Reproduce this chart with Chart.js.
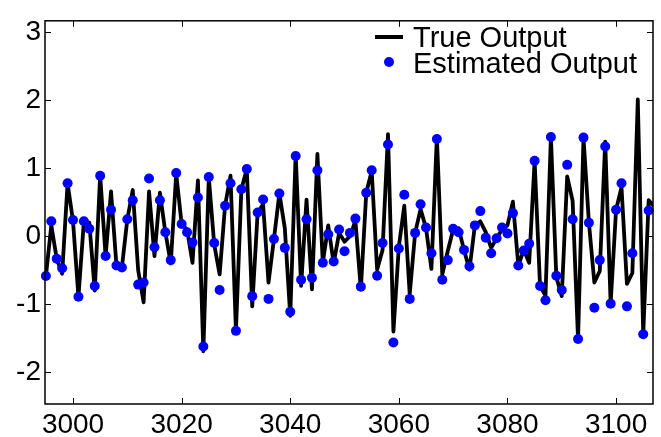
<!DOCTYPE html>
<html>
<head>
<meta charset="utf-8">
<script src="https://cdn.jsdelivr.net/npm/chart.js@4"></script>
<style>
  html, body { margin: 0; padding: 0; background: #fff; }
  #wrap { width: 661px; height: 437px; position: relative; }
</style>
</head>
<body>
<div id="wrap"><canvas id="c" width="661" height="437"></canvas></div>
<script>
// ---- data ----
const samples = [
  2995,2996,2997,2998,2999,3000,3001,3002,3003,3004,
  3005,3006,3007,3008,3009,3010,3011,3012,3013,3014,
  3015,3016,3017,3018,3019,3020,3021,3022,3023,3024,
  3025,3026,3027,3028,3029,3030,3031,3032,3033,3034,
  3035,3036,3037,3038,3039,3040,3041,3042,3043,3044,
  3045,3046,3047,3048,3049,3050,3051,3052,3053,3054,
  3055,3056,3057,3058,3059,3060,3061,3062,3063,3064,
  3065,3066,3067,3068,3069,3070,3071,3072,3073,3074,
  3075,3076,3077,3078,3079,3080,3081,3082,3083,3084,
  3085,3086,3087,3088,3089,3090,3091,3092,3093,3094,
  3095,3096,3097,3098,3099,3100,3101,3102,3103,3104,
  3105,3106,3107
];
const trueOutput = [
  -0.59, 0.16, -0.33, -0.55, 0.78, 0.22, -0.89, 0.22, 0.2, -0.8,
  0.9, -0.29, 0.66, -0.43, -0.46, 0.25, 0.68, -0.5, -0.97, 0.66,
  -0.29, 0.64, 0.06, -0.4, 0.92, 0.18, 0.1, -0.39, 0.82, -1.69,
  0.87, -0.12, -0.56, 0.45, 0.89, -1.39, 0.69, 0.99, -1.03, 0.35,
  0.47, -0.68, -0.04, 0.63, 0.12, -1.17, 1.21, -0.73, 0.54, -0.78,
  1.21, -0.39, 0.16, -0.4, 0.05, -0.08, 0.0, 0.23, -0.78, 0.64,
  0.96, -0.49, -0.2, 1.5, -1.4, -0.15, 0.45, -0.85, 0.05, 0.4,
  0.12, -0.48, 1.46, -0.56, -0.22, 0.1, 0.12, -0.2, -0.49, 0.16,
  0.22, 0.06, -0.17, -0.03, 0.1, 0.16, 0.51, -0.43, -0.2, -0.39,
  1.11, -0.73, -0.87, 1.46, -0.6, -0.88, 0.88, 0.52, -1.52, 1.45,
  0.2, -0.68, -0.51, 1.39, -0.99, 0.39, 0.72, -0.7, -0.54, 2.01,
  -1.44, 0.53, 0.44
];
const estimatedOutput = [
  -0.585, 0.22, -0.33, -0.47, 0.78, 0.24, -0.89, 0.22, 0.11, -0.73,
  0.89, -0.29, 0.39, -0.43, -0.46, 0.25, 0.53, -0.71, -0.68, 0.85,
  -0.16, 0.53, 0.06, -0.35, 0.93, 0.18, 0.06, -0.09, 0.57, -1.62,
  0.87, -0.1, -0.79, 0.45, 0.78, -1.39, 0.69, 0.99, -0.88, 0.35,
  0.54, -0.92, -0.04, 0.63, -0.17, -1.11, 1.18, -0.64, 0.25, -0.61,
  0.97, -0.39, 0.03, -0.37, 0.1, -0.22, 0.05, 0.26, -0.74, 0.64,
  0.97, -0.58, -0.1, 1.35, -1.56, -0.18, 0.61, -0.92, 0.05, 0.47,
  0.13, -0.25, 1.43, -0.64, -0.35, 0.11, 0.06, -0.2, -0.44, 0.16,
  0.37, -0.02, -0.25, -0.03, 0.13, 0.04, 0.34, -0.43, -0.21, -0.11,
  1.11, -0.73, -0.94, 1.46, -0.58, -0.79, 1.05, 0.25, -1.51, 1.45,
  0.2, -1.05, -0.35, 1.32, -0.99, 0.39, 0.78, -1.03, -0.25, null,
  -1.44, 0.38, null
];
const seriesNames = ['True Output', 'Estimated Output'];
const xTicks = [3000, 3020, 3040, 3060, 3080, 3100];
const yTicks = [-2, -1, 0, 1, 2, 3];

// ---- build ----
const FONT = '"Liberation Sans", Arial, Helvetica, sans-serif';
const truePts = samples.map((s, i) => ({ x: s, y: trueOutput[i] }));
const estPts = samples.map((s, i) => ({ x: s, y: estimatedOutput[i] })).filter(p => p.y !== null);

const frameAndTicks = {
  id: 'frameAndTicks',
  afterDatasetsDraw(chart) {
    const { ctx, chartArea: a, scales } = chart;
    const L = 6;
    ctx.save();
    ctx.strokeStyle = '#000';
    ctx.lineWidth = 1;
    scales.x.ticks.forEach(t => {
      const px = Math.round(scales.x.getPixelForValue(t.value)) + 0.5;
      ctx.beginPath();
      ctx.moveTo(px, a.bottom); ctx.lineTo(px, a.bottom - L);
      ctx.moveTo(px, a.top); ctx.lineTo(px, a.top + L);
      ctx.stroke();
    });
    scales.y.ticks.forEach(t => {
      const py = Math.round(scales.y.getPixelForValue(t.value)) + 0.5;
      ctx.beginPath();
      ctx.moveTo(a.left, py); ctx.lineTo(a.left + L, py);
      ctx.moveTo(a.right, py); ctx.lineTo(a.right - L, py);
      ctx.stroke();
    });
    ctx.lineWidth = 1.5;
    ctx.strokeRect(a.left, a.top, a.right - a.left, a.bottom - a.top);

    // legend (inside plot, top-right)
    ctx.font = '29px ' + FONT;
    ctx.fillStyle = '#000';
    ctx.textBaseline = 'alphabetic';
    ctx.textAlign = 'left';
    ctx.lineWidth = 4;
    ctx.beginPath();
    ctx.moveTo(375, 37); ctx.lineTo(403, 37);
    ctx.stroke();
    ctx.fillText(chart.data.datasets[0].label, 413, 47);
    ctx.fillStyle = '#0000ff';
    ctx.beginPath();
    ctx.arc(389, 62, 5, 0, Math.PI * 2);
    ctx.fill();
    ctx.fillStyle = '#000';
    ctx.fillText(chart.data.datasets[1].label, 413, 73);
    ctx.restore();
  }
};

new Chart(document.getElementById('c'), {
  type: 'scatter',
  data: {
    datasets: [
      {
        label: seriesNames[0],
        type: 'line',
        data: truePts,
        borderColor: '#000',
        borderWidth: 3.8,
        pointRadius: 0,
        tension: 0,
        fill: false,
        order: 2,
        borderJoinStyle: 'round',
        borderCapStyle: 'round'
      },
      {
        label: seriesNames[1],
        data: estPts,
        showLine: false,
        pointRadius: 5,
        pointBackgroundColor: '#0000ff',
        pointBorderColor: '#0000ff',
        pointBorderWidth: 0,
        order: 1,
        clip: false
      }
    ]
  },
  options: {
    responsive: false,
    animation: false,
    devicePixelRatio: 1,
    layout: { padding: { top: 13, right: 8, left: 0, bottom: 0 } },
    plugins: { legend: { display: false }, tooltip: { enabled: false } },
    scales: {
      x: {
        type: 'linear',
        min: 2994.84,
        max: 3106.8,
        afterBuildTicks: s => { s.ticks = xTicks.map(v => ({ value: v })); },
        afterFit: s => { s.height = 33; },
        grid: { display: false, drawTicks: false, tickLength: 0 },
        border: { display: false },
        ticks: { color: '#000', font: { family: FONT, size: 28 }, padding: 4, maxRotation: 0, autoSkip: false,
                 callback: v => String(v) }
      },
      y: {
        type: 'linear',
        min: -2.465,
        max: 3.167,
        afterBuildTicks: s => { s.ticks = yTicks.map(v => ({ value: v })); },
        afterFit: s => { s.width = 45; },
        grid: { display: false, drawTicks: false, tickLength: 0 },
        border: { display: false },
        ticks: { color: '#000', font: { family: FONT, size: 28 }, padding: 4, autoSkip: false,
                 callback: v => String(v) }
      }
    }
  },
  plugins: [frameAndTicks]
});
</script>
</body>
</html>
